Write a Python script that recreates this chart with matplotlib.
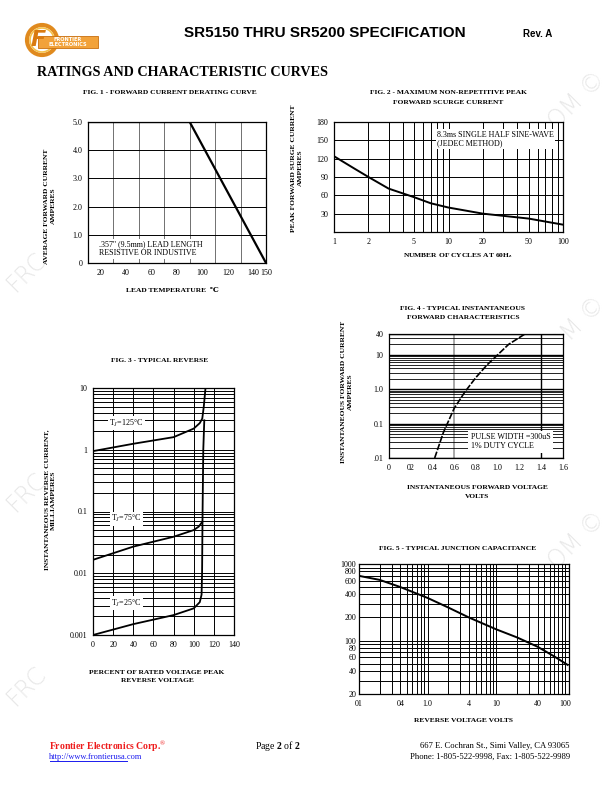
import matplotlib
matplotlib.use("Agg")
import matplotlib.pyplot as plt
from matplotlib.patches import Ellipse, Rectangle
from matplotlib.ticker import FixedLocator, NullFormatter, LogLocator

# fig 1 - derating
derate_temp = [10, 90, 150]
derate_amps = [5.0, 5.0, 0.0]
fig1_xticks = [20, 40, 60, 80, 100, 120, 140, 150]
fig1_yticks = [0, 1, 2, 3, 4, 5]
fig1_ylabels = ["0", "1.0", "2.0", "3.0", "4.0", "5.0"]

# fig 2 - surge current
surge_cycles = [1, 1.5, 2, 3, 5, 7, 10, 20, 50, 100]
surge_amps = [124, 104, 90, 71, 57, 47, 40, 30, 22, 12]
fig2_xticks = [1, 2, 5, 10, 20, 50, 100]
fig2_yticks = [30, 60, 90, 120, 150, 180]

# fig 3 - reverse current
t125_pct = [0, 40, 80, 100, 106, 108.5, 110, 111.7]
t125_ma = [0.95, 1.25, 1.6, 2.2, 2.7, 3.2, 5, 10]
t75_pct = [0, 40, 80, 100, 105, 108.5]
t75_ma = [0.0165, 0.027, 0.039, 0.05, 0.057, 0.068]
t25_pct = [0, 40, 80, 100, 106, 107.8, 108.3, 108.8, 109.5, 110.5]
t25_ma = [0.001, 0.0015, 0.0021, 0.0027, 0.0034, 0.0045, 0.01, 0.1, 1, 3]
fig3_yticks = [0.001, 0.01, 0.1, 1, 10]
fig3_ylabels = ["0.001", "0.01", "0.1", "1", "10"]

# fig 4 - forward characteristics
vf = [0.42, 0.5, 0.6, 0.7, 0.8, 0.9, 1.0, 1.1, 1.25]
i_fwd = [0.01, 0.055, 0.28, 0.85, 2.2, 5, 10, 20, 40]
fig4_xticks = [0, 0.2, 0.4, 0.6, 0.8, 1.0, 1.2, 1.4, 1.6]
fig4_xlabels = ["0", "02", "0.4", "0.6", "0.8", "1.0", "1.2", "1.4", "1.6"]
fig4_yticks = [0.01, 0.1, 1, 10, 40]
fig4_ylabels = [".01", "0.1", "1.0", "10", "40"]

# fig 5 - junction capacitance
cap_v = [0.1, 0.2, 0.4, 1, 2, 4, 10, 20, 40, 70, 110]
cap_pf = [700, 620, 500, 360, 270, 200, 140, 110, 83, 62, 48]
fig5_xticks = [0.1, 0.4, 1, 4, 10, 40, 100]
fig5_xlabels = ["01", "04", "1.0", "4", "10", "40", "100"]
fig5_yticks = [20, 40, 60, 80, 100, 200, 400, 600, 800, 1000]

plt.rcParams['font.family'] = ['Liberation Serif', 'DejaVu Serif']
plt.rcParams['mathtext.fontset'] = 'custom'
plt.rcParams['mathtext.rm'] = 'Liberation Serif'
plt.rcParams['mathtext.it'] = 'Liberation Serif:italic'
plt.rcParams['mathtext.bf'] = 'Liberation Serif:bold'

W, H = 612.0, 792.0
fig = plt.figure(figsize=(6.12, 7.92), dpi=100)


def box(l, t, r, b):
    return [l / W, 1 - b / H, (r - l) / W, (b - t) / H]


def ftext(x, y, s, **kw):
    kw.setdefault("ha", "center")
    kw.setdefault("va", "center")
    return fig.text(x / W, 1 - y / H, s, **kw)


def style(ax):
    for sp in ax.spines.values():
        sp.set_linewidth(0.9)
        sp.set_color("k")
    ax.tick_params(which="both", length=0, labelsize=5.8, pad=4)
    ax.set_facecolor("white")
    ax.set_zorder(2)


# watermark fragments
wm = dict(color="#e8e8e8", fontsize=17, rotation=45, family="DejaVu Sans",
          fontweight="light", zorder=0)
for yy in [272, 492, 686]:
    ftext(26, yy, "FRC", **wm)
for yy in [100, 325, 540]:
    ftext(577, yy, "OM ©", **wm)

# header
lax = fig.add_axes(box(18, 20, 100, 62))
lax.set_xlim(0, 82)
lax.set_ylim(42, 0)
lax.axis("off")
lax.add_patch(Ellipse((24, 20), 30, 30, fill=False, ec="#e08a1e", lw=3.0))
lax.add_patch(Ellipse((24, 20), 24, 24, fill=False, ec="#f5c04a", lw=1.2))
lax.add_patch(Rectangle((20, 16), 60, 12, fc="#f2a23a", ec="#c86f10", lw=0.6))
lax.text(50, 19.5, "FRONTIER", fontsize=3.6, color="white", ha="center", va="center",
         family="DejaVu Sans", fontweight="bold")
lax.text(50, 25, "ELECTRONICS", fontsize=3.6, color="white", ha="center", va="center",
         family="DejaVu Sans", fontweight="bold")
lax.text(20, 20, "F", fontsize=16, color="#d97a10", ha="center", va="center",
         family="DejaVu Sans", fontweight="bold", style="italic")

ftext(325, 33, "SR5150 THRU SR5200 SPECIFICATION", fontsize=11, fontweight="bold",
      family="Liberation Sans")
ftext(538, 34, "Rev. A", fontsize=7, fontweight="bold", family="Liberation Sans")
ftext(37, 73, "RATINGS AND CHARACTERISTIC CURVES", fontsize=10.2, fontweight="bold",
      ha="left")

tfs = 5.4

# ---- fig 1
ax1 = fig.add_axes(box(88, 122, 266, 263))
ax1.plot(derate_temp, derate_amps, color="k", lw=1.6, zorder=3)
ax1.set_xlim(10, 150)
ax1.set_ylim(0, 5)
ax1.set_xticks(fig1_xticks)
ax1.set_yticks(fig1_yticks)
ax1.set_yticklabels(fig1_ylabels)
ax1.xaxis.set_minor_locator(FixedLocator(range(10, 150, 10)))
ax1.grid(axis="x", which="minor", color="0.35", lw=0.6)
ax1.grid(axis="y", which="major", color="k", lw=0.7)
style(ax1)
ax1.text(0.06, 0.1, ".357'' (9.5mm) LEAD LENGTH\nRESISTIVE OR INDUSTIVE", transform=ax1.transAxes,
         fontsize=5.8, ha="left", va="center", linespacing=1.1,
         bbox=dict(fc="white", ec="none", pad=1.0), zorder=4)
ftext(170, 92, "FIG. 1 - FORWARD CURRENT DERATING CURVE", fontsize=tfs, fontweight="bold")
ftext(50, 206, "AVERAGE FORWARD CURRENT\nAMPERES", fontsize=tfs, fontweight="bold",
      rotation=90, linespacing=1.3)
ftext(172, 290, "LEAD TEMPERATURE  ℃", fontsize=tfs, fontweight="bold")

# ---- fig 2
ax2 = fig.add_axes(box(334, 122, 563, 232))
ax2.plot(surge_cycles, surge_amps, color="k", lw=1.4, zorder=3)
ax2.set_xscale("log")
ax2.set_xlim(1, 100)
ax2.set_ylim(0, 180)
ax2.set_xticks(fig2_xticks)
ax2.set_xticklabels([str(v) for v in fig2_xticks])
ax2.xaxis.set_minor_locator(LogLocator(base=10, subs=range(2, 10)))
ax2.xaxis.set_minor_formatter(NullFormatter())
ax2.set_yticks(fig2_yticks)
ax2.grid(which="both", color="k", lw=0.7)
style(ax2)
ax2.text(0.45, 0.92, "8.3ms SINGLE HALF SINE-WAVE\n(JEDEC METHOD)", transform=ax2.transAxes,
         fontsize=5.8, ha="left", va="top", linespacing=1.1,
         bbox=dict(fc="white", ec="none", pad=1.0), zorder=4)
ftext(448, 93, "FIG. 2 - MAXIMUM NON-REPETITIVE PEAK", fontsize=tfs, fontweight="bold")
ftext(448, 102, "FORWARD SCURGE CURRENT", fontsize=tfs, fontweight="bold")
ftext(297, 168, "PEAK FORWARD SURGE CURRENT\nAMPERES", fontsize=tfs, fontweight="bold",
      rotation=90, linespacing=1.3)
ftext(458, 256, "NUMBER OF CYCLES AT 60H$_\\mathbf{z}$", fontsize=tfs, fontweight="bold")

# ---- fig 3
ax3 = fig.add_axes(box(93, 388, 234, 635))
ax3.plot(t125_pct, t125_ma, color="k", lw=1.3, zorder=3)
ax3.plot(t75_pct, t75_ma, color="k", lw=1.3, zorder=3)
ax3.plot(t25_pct, t25_ma, color="k", lw=1.3, zorder=3)
ax3.set_yscale("log")
ax3.set_xlim(0, 140)
ax3.set_ylim(0.001, 10)
ax3.set_xticks(range(0, 141, 20))
ax3.set_yticks(fig3_yticks)
ax3.set_yticklabels(fig3_ylabels)
ax3.yaxis.set_minor_locator(LogLocator(base=10, subs=range(2, 10)))
ax3.yaxis.set_minor_formatter(NullFormatter())
ax3.grid(which="both", color="k", lw=0.7)
style(ax3)
lbl = dict(fontsize=5.8, ha="center", va="center", zorder=4,
           bbox=dict(fc="white", ec="none", pad=1.0))
ax3.text(33, 2.7, "T$_J$=125°C", **lbl)
ax3.text(33, 0.076, "T$_J$=75°C", **lbl)
ax3.text(33, 0.0033, "T$_J$=25°C", **lbl)
ftext(160, 360, "FIG. 3 - TYPICAL REVERSE", fontsize=tfs, fontweight="bold")
ftext(50, 500, "INSTANTANEOUS REVERSE CURRENT,\nMILLIAMPERES", fontsize=tfs,
      fontweight="bold", rotation=90, linespacing=1.3)
ftext(157, 673, "PERCENT OF RATED VOLTAGE PEAK", fontsize=tfs, fontweight="bold")
ftext(157, 681, "REVERSE VOLTAGE", fontsize=tfs, fontweight="bold")

# ---- fig 4
ax4 = fig.add_axes(box(389, 334, 563, 458))
ax4.plot(vf, i_fwd, color="k", lw=1.2, ls=(0, (4, 1)), zorder=3)
ax4.set_yscale("log")
ax4.set_xlim(0, 1.6)
ax4.set_ylim(0.01, 40)
ax4.set_xticks(fig4_xticks)
ax4.set_xticklabels(fig4_xlabels)
ax4.set_yticks(fig4_yticks)
ax4.set_yticklabels(fig4_ylabels)
ax4.yaxis.set_minor_locator(LogLocator(base=10, subs=range(2, 10)))
ax4.yaxis.set_minor_formatter(NullFormatter())
ax4.grid(axis="y", which="both", color="k", lw=0.6)
ax4.grid(axis="y", which="major", color="k", lw=1.0)
ax4.axvline(0.6, color="0.6", lw=1.2, zorder=1)
ax4.axvline(1.4, color="k", lw=1.0, zorder=1)
style(ax4)
ax4.text(0.47, 0.13, "PULSE WIDTH =300uS\n1% DUTY CYCLE", transform=ax4.transAxes,
         fontsize=5.8, ha="left", va="center", linespacing=1.2,
         bbox=dict(fc="white", ec="none", pad=2.0), zorder=4)
ftext(463, 309, "FIG. 4 - TYPICAL INSTANTANEOUS", fontsize=tfs, fontweight="bold")
ftext(463, 317, "FORWARD CHARACTERISTICS", fontsize=tfs, fontweight="bold")
ftext(347, 392, "INSTANTANEOUS FORWARD CURRENT\nAMPERES", fontsize=tfs,
      fontweight="bold", rotation=90, linespacing=1.3)
ftext(477, 487, "INSTANTANEOUS FORWARD VOLTAGE", fontsize=tfs, fontweight="bold")
ftext(477, 496, "VOLTS", fontsize=tfs, fontweight="bold")

# ---- fig 5
ax5 = fig.add_axes(box(359, 564, 569, 694))
ax5.plot(cap_v, cap_pf, color="k", lw=1.4, zorder=3)
ax5.set_xscale("log")
ax5.set_yscale("log")
ax5.set_xlim(0.1, 115)
ax5.set_ylim(20, 1000)
ax5.set_xticks(fig5_xticks)
ax5.set_xticklabels(fig5_xlabels)
ax5.set_yticks(fig5_yticks)
ax5.set_yticklabels([str(v) for v in fig5_yticks])
ax5.xaxis.set_minor_locator(LogLocator(base=10, subs=range(2, 10)))
ax5.xaxis.set_minor_formatter(NullFormatter())
ax5.yaxis.set_minor_locator(LogLocator(base=10, subs=range(2, 10)))
ax5.yaxis.set_minor_formatter(NullFormatter())
ax5.grid(which="both", color="k", lw=0.7)
style(ax5)
ax5.tick_params(axis="y", pad=2)
ftext(458, 548, "FIG. 5 - TYPICAL JUNCTION CAPACITANCE", fontsize=tfs, fontweight="bold")
ftext(463, 721, "REVERSE VOLTAGE VOLTS", fontsize=tfs, fontweight="bold")

# footer
ftext(49, 746, "Frontier Electronics Corp.$^{\\circledR}$", fontsize=7, fontweight="bold",
      color="#ee1c1c", ha="left")
ftext(49, 757, "http://www.frontierusa.com", fontsize=6, color="#1a1aee", ha="left")
fig.add_artist(plt.Line2D([50 / W, 127 / W], [1 - 761 / H, 1 - 761 / H], color="#1a1aee", lw=0.7))
ftext(278, 746, "Page $\\mathbf{2}$ of $\\mathbf{2}$", fontsize=7, ha="center")
ftext(570, 746, "667 E. Cochran St., Simi Valley, CA 93065", fontsize=6.2, ha="right")
ftext(570, 757, "Phone: 1-805-522-9998, Fax: 1-805-522-9989", fontsize=6.2, ha="right")

fig.savefig("out.png", dpi=100)
